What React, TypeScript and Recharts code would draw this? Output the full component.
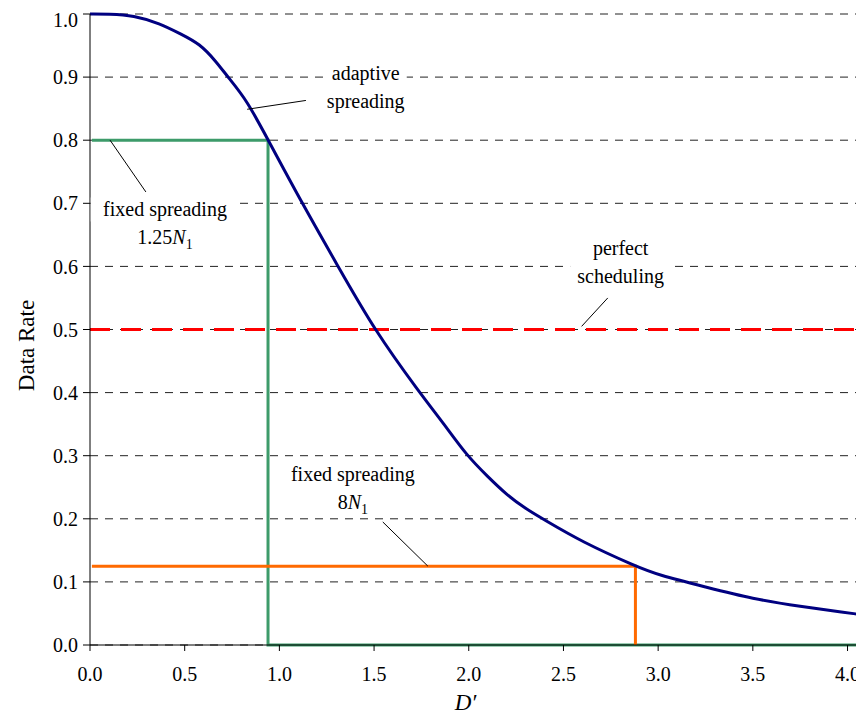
import React from "react";
import {
  LineChart,
  Line,
  XAxis,
  YAxis,
  CartesianGrid,
  ReferenceLine,
  ReferenceDot,
} from "recharts";

type Pt = { d: number; rate: number };

// adaptive spreading curve
const adaptiveD = [0, 0.1, 0.23, 0.37, 0.475, 0.58, 0.668, 0.728, 0.827, 0.941, 1.12, 1.31, 1.5, 1.74, 1.87, 1.99, 2.1, 2.2, 2.3, 2.39, 2.6, 2.88, 3.0, 3.25, 3.5, 3.75, 4.0, 4.05];
const adaptiveRate = [1.0, 1.0, 0.998, 0.985, 0.969, 0.953, 0.924, 0.9, 0.864, 0.8, 0.7, 0.6, 0.5, 0.4, 0.35, 0.3, 0.267, 0.238, 0.216, 0.2, 0.163, 0.125, 0.111, 0.092, 0.073, 0.061, 0.051, 0.049];

// fixed spreading 1.25 N1
const fixedLowD = [0.01, 0.94, 0.94, 4.05];
const fixedLowRate = [0.8, 0.8, 0, 0];

// fixed spreading 8 N1
const fixedHighD = [0.01, 2.88, 2.88];
const fixedHighRate = [0.125, 0.125, 0];

// perfect scheduling
const perfectD = [0, 4.05];
const perfectRate = [0.5, 0.5];

const xTicks = [0, 0.5, 1.0, 1.5, 2.0, 2.5, 3.0, 3.5, 4.0];
const yTicks = [0, 0.1, 0.2, 0.3, 0.4, 0.5, 0.6, 0.7, 0.8, 0.9, 1.0];

// annotation text blocks (centre in data units) and their leader lines
const notes = [
  { d: 1.456, rate: 0.884, lines: [["adaptive"], ["spreading"]] },
  { d: 0.396, rate: 0.668, lines: [["fixed spreading"], ["1.25", "N", "1"]] },
  { d: 2.802, rate: 0.607, lines: [["perfect"], ["scheduling"]] },
  { d: 1.388, rate: 0.249, lines: [["fixed spreading"], ["8", "N", "1"]] },
];
const leaders = [
  [{ x: 0.83, y: 0.849 }, { x: 1.14, y: 0.863 }],
  [{ x: 0.106, y: 0.8 }, { x: 0.295, y: 0.718 }],
  [{ x: 2.596, y: 0.505 }, { x: 2.734, y: 0.55 }],
  [{ x: 1.546, y: 0.195 }, { x: 1.784, y: 0.125 }],
];

const zip = (xs: number[], ys: number[]): Pt[] => xs.map((d, i) => ({ d, rate: ys[i] }));

const FONT = "'Liberation Serif', 'Times New Roman', serif";

const NoteShape = (props: any) => {
  const { cx, cy, lines } = props;
  const gap = 28;
  const top = cy - ((lines.length - 1) * gap) / 2;
  return (
    <g>
      {lines.map((parts: string[], i: number) => {
        const y = top + i * gap;
        const w = parts.length > 1 ? 60 : parts[0].length * 9.5;
        return (
          <g key={i}>
            <rect x={cx - w / 2 - 3} y={y - 12} width={w + 6} height={24} fill="#fff" />
            <text x={cx} y={y} dy="0.35em" textAnchor="middle" fontFamily={FONT} fontSize={20} fill="#000">
              {parts.length > 1 ? (
                <>
                  <tspan>{parts[0]}</tspan>
                  <tspan fontStyle="italic">{parts[1]}</tspan>
                  <tspan fontSize={14} dy="5">{parts[2]}</tspan>
                </>
              ) : (
                parts[0]
              )}
            </text>
          </g>
        );
      })}
    </g>
  );
};

export default function App() {
  return (
    <LineChart width={856} height={711} margin={{ top: 6, right: 7, bottom: 0, left: 0 }}>
      <CartesianGrid vertical={false} stroke="#222" strokeDasharray="8 7" />
      <XAxis
        dataKey="d"
        type="number"
        domain={[0, 4.05]}
        ticks={xTicks}
        tickFormatter={(v: number) => v.toFixed(1)}
        height={74}
        tickSize={6}
        tickMargin={16}
        stroke="#000"
        tick={{ fill: "#000", fontSize: 20, fontFamily: FONT }}
        label={{
          content: (p: any) => (
            <text
              x={p.viewBox.x + p.viewBox.width / 2 - 8}
              y={702}
              textAnchor="middle"
              fontFamily={FONT}
              fontStyle="italic"
              fontSize={23}
              fill="#000"
            >
              D′
            </text>
          ),
        }}
      />
      <YAxis
        dataKey="rate"
        type="number"
        domain={[0, 1]}
        ticks={yTicks}
        tickFormatter={(v: number) => v.toFixed(1)}
        width={82}
        tickSize={7}
        tickMargin={5}
        stroke="#000"
        tick={{ fill: "#000", fontSize: 20, fontFamily: FONT }}
        label={{
          content: (p: any) => (
            <text
              transform={`translate(18, ${p.viewBox.y + p.viewBox.height / 2 + 16}) rotate(-90)`}
              dy="0.35em"
              textAnchor="middle"
              fontFamily={FONT}
              fontSize={23}
              fill="#000"
            >
              Data Rate
            </text>
          ),
        }}
      />
      <Line
        data={zip(perfectD, perfectRate)}
        dataKey="rate"
        stroke="#FF0000"
        strokeWidth={3}
        strokeDasharray="20 11"
        dot={false}
        activeDot={false}
        isAnimationActive={false}
      />
      <Line
        data={zip(fixedLowD, fixedLowRate)}
        dataKey="rate"
        type="linear"
        stroke="#3D9B6A"
        strokeWidth={3}
        dot={false}
        activeDot={false}
        isAnimationActive={false}
      />
      <Line
        data={zip(fixedHighD, fixedHighRate)}
        dataKey="rate"
        type="linear"
        stroke="#FF6A00"
        strokeWidth={3}
        dot={false}
        activeDot={false}
        isAnimationActive={false}
      />
      <Line
        data={zip(adaptiveD, adaptiveRate)}
        dataKey="rate"
        type="basis"
        stroke="#000080"
        strokeWidth={3}
        dot={false}
        activeDot={false}
        isAnimationActive={false}
      />
      {leaders.map((seg, i) => (
        <ReferenceLine key={`l${i}`} segment={seg} stroke="#000" strokeWidth={1} />
      ))}
      {notes.map((n, i) => (
        <ReferenceDot
          key={`n${i}`}
          x={n.d}
          y={n.rate}
          r={0}
          shape={(p: any) => <NoteShape {...p} lines={n.lines} />}
        />
      ))}
    </LineChart>
  );
}
